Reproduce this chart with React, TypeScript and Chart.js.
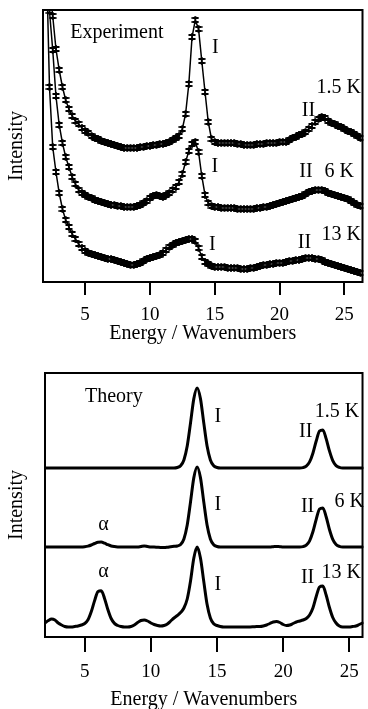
import React, { useEffect, useRef } from "react";
import { Chart, registerables } from "chart.js";

Chart.register(...registerables);

// ---------- Experiment (top panel) ----------
const expEnergy = [
  2, 2.25, 2.5, 2.75, 3, 3.25, 3.5, 3.75, 4, 4.25,
  4.5, 4.75, 5, 5.25, 5.5, 5.75, 6, 6.25, 6.5, 6.75,
  7, 7.25, 7.5, 7.75, 8, 8.25, 8.5, 8.75, 9, 9.25,
  9.5, 9.75, 10, 10.25, 10.5, 10.75, 11, 11.25, 11.5, 11.75,
  12, 12.25, 12.5, 12.75, 13, 13.25, 13.5, 13.75, 14, 14.25,
  14.5, 14.75, 15, 15.25, 15.5, 15.75, 16, 16.25, 16.5, 16.75,
  17, 17.25, 17.5, 17.75, 18, 18.25, 18.5, 18.75, 19, 19.25,
  19.5, 19.75, 20, 20.25, 20.5, 20.75, 21, 21.25, 21.5, 21.75,
  22, 22.25, 22.5, 22.75, 23, 23.25, 23.5, 23.75, 24, 24.25,
  24.5, 24.75, 25, 25.25, 25.5, 25.75, 26, 26.25,
];

const exp15K = [
  340, 295, 266, 233, 212, 195, 182, 173, 166, 161,
  158, 154, 151, 149, 146, 144, 143, 141, 140, 139,
  138, 137, 136, 135, 134, 134, 134, 134, 134, 135,
  135, 136, 136, 137, 137, 138, 138, 139, 140, 142,
  144, 146, 153, 168, 198, 245, 262, 253, 221, 190,
  160, 143, 140, 139, 139, 139, 139, 139, 139, 138,
  138, 137, 137, 137, 137, 138, 138, 138, 139, 139,
  139, 139, 140, 140, 140, 142, 144, 145, 147, 148,
  150, 153, 156, 160, 163, 165, 164, 161, 159, 158,
  156, 155, 153, 151, 150, 148, 146, 144,
];

const exp6K = [
  330, 271, 232, 186, 157, 139, 125, 115, 105, 98,
  92, 89, 87, 85, 84, 82, 81, 80, 79, 78,
  77, 77, 76, 76, 75, 75, 75, 75, 76, 77,
  79, 81, 84, 86, 87, 86, 85, 87, 89, 92,
  95, 100, 108, 120, 131, 138, 140, 130, 106, 87,
  79, 76, 75, 75, 74, 74, 74, 74, 74, 73,
  73, 73, 73, 73, 73, 74, 74, 75, 75, 76,
  77, 78, 79, 80, 81, 82, 83, 84, 85, 86,
  88, 90, 91, 92, 92, 92, 91, 89, 88, 87,
  86, 85, 84, 83, 81, 79, 77, 76,
];

const exp13K = [
  330, 195, 135, 110, 89, 73, 62, 55, 48, 43,
  38, 34, 31, 29, 28, 27, 26, 25, 24, 23,
  23, 22, 21, 20, 19, 18, 17, 17, 18, 19,
  21, 23, 24, 25, 26, 27, 29, 32, 35, 37,
  39, 40, 41, 42, 43, 43, 41, 34, 25, 20,
  18, 16, 15, 15, 15, 15, 14, 14, 14, 14,
  13, 13, 13, 14, 14, 15, 16, 17, 17, 18,
  18, 19, 19, 19, 20, 21, 21, 22, 22, 23,
  24, 24, 24, 23, 23, 22, 20, 19, 18, 17,
  16, 15, 14, 13, 12, 11, 10, 9,
];

// ---------- Theory (bottom panel) ----------
const thEnergy = [
  2, 2.25, 2.5, 2.75, 3, 3.25, 3.5, 3.75, 4, 4.25,
  4.5, 4.75, 5, 5.25, 5.5, 5.75, 6, 6.25, 6.5, 6.75,
  7, 7.25, 7.5, 7.75, 8, 8.25, 8.5, 8.75, 9, 9.25,
  9.5, 9.75, 10, 10.25, 10.5, 10.75, 11, 11.25, 11.5, 11.75,
  12, 12.25, 12.5, 12.75, 13, 13.25, 13.5, 13.75, 14, 14.25,
  14.5, 14.75, 15, 15.25, 15.5, 15.75, 16, 16.25, 16.5, 16.75,
  17, 17.25, 17.5, 17.75, 18, 18.25, 18.5, 18.75, 19, 19.25,
  19.5, 19.75, 20, 20.25, 20.5, 20.75, 21, 21.25, 21.5, 21.75,
  22, 22.25, 22.5, 22.75, 23, 23.25, 23.5, 23.75, 24, 24.25,
  24.5, 24.75, 25, 25.25, 25.5, 25.75, 26,
];

const th15K = [
  169, 169, 169, 169, 169, 169, 169, 169, 169, 169,
  169, 169, 169, 169, 169, 169, 169, 169, 169, 169,
  169, 169, 169, 169, 169, 169, 169, 169, 169, 169,
  169, 169, 169, 169, 169, 169, 169, 169, 169, 169,
  169.5, 171.2, 177.1, 191, 214.1, 238.4, 249, 238.4, 214.1, 191,
  177.1, 171.2, 169.5, 169, 169, 169, 169, 169, 169, 169,
  169, 169, 169, 169, 169, 169, 169, 169, 169, 169,
  169, 169, 169, 169, 169, 169, 169, 169, 169.4, 170.9,
  175.1, 183.8, 196, 206, 207.1, 198.4, 186.1, 176.4, 171.4, 169.6,
  169, 169, 169, 169, 169, 169, 169,
];

const th6K = [
  90, 90, 90, 90, 90, 90, 90, 90, 90, 90,
  90, 90, 90.3, 90.9, 92, 93.5, 94.8, 94.9, 93.8, 92.3,
  91, 90.4, 90.1, 90, 90, 90, 90, 90, 90, 90.5,
  91, 90.5, 90, 90, 89.7, 89.5, 89.5, 89.8, 90.3, 90.7,
  91, 92.5, 98.1, 112, 135.1, 159.4, 170, 159.4, 135.1, 112,
  98.1, 92.2, 90.5, 90, 90, 90, 90, 90, 90, 90,
  90, 90, 90, 90, 90, 90, 90, 90, 90, 90.3,
  90.6, 90.3, 90, 90, 90, 90, 90, 90, 90.4, 91.9,
  96.2, 105.2, 117.7, 128, 129.1, 120.2, 107.5, 97.6, 92.5, 90.6,
  90, 90, 90, 90, 90, 90, 90,
];

const th13K = [
  14, 16.5, 18, 17, 14, 12, 10.5, 10, 10, 10.5,
  11, 12, 13.5, 17.2, 25.4, 36.4, 45.3, 46.2, 38.6, 27.5,
  18.5, 13.6, 11.5, 10.5, 10, 10, 10.5, 12, 14.5, 16.5,
  17, 16, 14, 12.5, 11.5, 11, 11.5, 13, 16, 19,
  21.5, 24.5, 29, 38, 56, 79, 90, 79, 55.6, 32.7,
  19, 13.2, 11.5, 10.5, 10, 10, 10, 10, 10, 10,
  10, 10, 10, 10.2, 10.5, 10.5, 11, 12, 13.5, 15,
  15.5, 14.5, 12.5, 11.5, 12, 13.5, 15, 16, 17, 18.5,
  22, 29, 40.5, 50, 51, 42, 29.5, 19.5, 14, 11,
  10, 10, 10, 10.5, 11, 12.5, 14,
];

const tickValues = [5, 10, 15, 20, 25];

type Note = { text: string; x: number; y: number; align: CanvasTextAlign };

const topNotes: Note[] = [
  { text: "Experiment", x: 3.85, y: 244, align: "left" },
  { text: "I", x: 15.04, y: 229, align: "center" },
  { text: "1.5 K", x: 22.85, y: 189, align: "left" },
  { text: "II", x: 22.23, y: 166, align: "center" },
  { text: "I", x: 15.0, y: 110, align: "center" },
  { text: "II", x: 22.04, y: 105, align: "center" },
  { text: "6 K", x: 23.46, y: 105, align: "left" },
  { text: "I", x: 14.81, y: 32, align: "center" },
  { text: "II", x: 21.92, y: 34, align: "center" },
  { text: "13 K", x: 23.23, y: 42, align: "left" },
];

const bottomNotes: Note[] = [
  { text: "Theory", x: 5.02, y: 235, align: "left" },
  { text: "I", x: 15.06, y: 215, align: "center" },
  { text: "1.5 K", x: 22.38, y: 220, align: "left" },
  { text: "II", x: 21.7, y: 200, align: "center" },
  { text: "I", x: 15.06, y: 127, align: "center" },
  { text: "6 K", x: 23.89, y: 130, align: "left" },
  { text: "II", x: 21.85, y: 125, align: "center" },
  { text: "α", x: 6.42, y: 107, align: "center" },
  { text: "I", x: 15.06, y: 47, align: "center" },
  { text: "13 K", x: 22.9, y: 59, align: "left" },
  { text: "II", x: 21.85, y: 54, align: "center" },
  { text: "α", x: 6.42, y: 60, align: "center" },
];

const FONT = "'Liberation Serif', 'Times New Roman', serif";

const framePlugin = {
  id: "frame",
  afterDatasetsDraw(chart: any) {
    const { ctx, chartArea: a } = chart;
    ctx.save();
    ctx.strokeStyle = "#000";
    ctx.lineWidth = 2;
    ctx.strokeRect(a.left, a.top, a.right - a.left, a.bottom - a.top);
    ctx.restore();
  },
};

const notesPlugin = {
  id: "notes",
  afterDraw(chart: any, _args: any, opts: any) {
    const items: Note[] = opts.items || [];
    const { ctx } = chart;
    const xs = chart.scales.x;
    const ys = chart.scales.y;
    ctx.save();
    ctx.fillStyle = "#000";
    ctx.font = `20px ${FONT}`;
    ctx.textBaseline = "alphabetic";
    for (const n of items) {
      ctx.textAlign = n.align;
      ctx.fillText(n.text, xs.getPixelForValue(n.x), ys.getPixelForValue(n.y));
    }
    ctx.restore();
  },
};

function makeErrorBar(): HTMLCanvasElement {
  const c = document.createElement("canvas");
  c.width = 8;
  c.height = 8;
  const g = c.getContext("2d")!;
  g.fillStyle = "#000";
  g.fillRect(0.5, 1, 7, 2);
  g.fillRect(0.5, 5, 7, 2);
  g.fillRect(3.2, 0, 1.6, 8);
  return c;
}

function axes(
  xmin: number,
  xmax: number,
  ymax: number,
  xHeight: number,
  yWidth: number,
  tickLen: number,
  titlePad: number
) {
  return {
    x: {
      type: "linear" as const,
      min: xmin,
      max: xmax,
      afterFit: (s: any) => {
        s.height = xHeight;
      },
      afterBuildTicks: (s: any) => {
        s.ticks = tickValues.map((v) => ({ value: v }));
      },
      ticks: {
        color: "#000",
        font: { family: FONT, size: 19 },
        padding: 9,
        maxRotation: 0,
        autoSkip: false,
      },
      grid: {
        display: true,
        drawOnChartArea: false,
        drawTicks: true,
        tickLength: tickLen,
        color: "#000",
        lineWidth: 2,
      },
      border: { display: false },
      title: {
        display: true,
        text: "Energy / Wavenumbers",
        color: "#000",
        font: { family: FONT, size: 20 },
        padding: { top: 0, bottom: titlePad },
      },
    },
    y: {
      type: "linear" as const,
      min: 0,
      max: ymax,
      afterFit: (s: any) => {
        s.width = yWidth;
      },
      ticks: { display: false },
      grid: { display: false },
      border: { display: false },
      title: {
        display: true,
        text: "Intensity",
        color: "#000",
        font: { family: FONT, size: 20 },
        padding: { top: 5, bottom: 0 },
      },
    },
  };
}

export default function App() {
  const topRef = useRef<HTMLCanvasElement>(null);
  const botRef = useRef<HTMLCanvasElement>(null);

  useEffect(() => {
    const bar = makeErrorBar();
    const expSet = (vals: number[]) => ({
      data: expEnergy.map((e, i) => ({ x: e, y: vals[i] })),
      borderColor: "#000",
      borderWidth: 1.5,
      pointStyle: bar,
      pointRadius: 3,
      pointBackgroundColor: "#000",
      pointBorderColor: "#000",
      tension: 0,
      clip: 1,
    });
    const top = new Chart(topRef.current!, {
      type: "line",
      data: {
        datasets: [expSet(exp15K), expSet(exp6K), expSet(exp13K)],
      },
      options: {
        responsive: false,
        animation: false,
        layout: { padding: { top: 10, right: 5, left: 0, bottom: 0 } },
        plugins: {
          legend: { display: false },
          tooltip: { enabled: false },
          notes: { items: topNotes },
        } as any,
        scales: axes(1.75, 26.4, 272, 80, 43, 13, 16) as any,
      },
      plugins: [framePlugin, notesPlugin],
    });

    const thSet = (vals: number[]) => ({
      data: thEnergy.map((e, i) => ({ x: e, y: vals[i] })),
      borderColor: "#000",
      borderWidth: 3,
      pointRadius: 0,
      cubicInterpolationMode: "monotone" as const,
      borderJoinStyle: "round" as const,
      borderCapStyle: "round" as const,
      clip: 1,
    });
    const bot = new Chart(botRef.current!, {
      type: "line",
      data: {
        datasets: [thSet(th15K), thSet(th6K), thSet(th13K)],
      },
      options: {
        responsive: false,
        animation: false,
        layout: { padding: { top: 11, right: 5, left: 0, bottom: 0 } },
        plugins: {
          legend: { display: false },
          tooltip: { enabled: false },
          notes: { items: bottomNotes },
        } as any,
        scales: axes(2, 26, 264, 85, 45, 15, 10) as any,
      },
      plugins: [framePlugin, notesPlugin],
    });

    return () => {
      top.destroy();
      bot.destroy();
    };
  }, []);

  return (
    <div
      style={{
        position: "absolute",
        left: 0,
        top: 0,
        width: 368,
        height: 709,
        overflow: "hidden",
        background: "#fff",
      }}
    >
      <div style={{ position: "absolute", left: 0, top: 0 }}>
        <canvas ref={topRef} width={368} height={362} style={{ display: "block" }} />
      </div>
      <div style={{ position: "absolute", left: 0, top: 362 }}>
        <canvas ref={botRef} width={368} height={360} style={{ display: "block" }} />
      </div>
    </div>
  );
}
